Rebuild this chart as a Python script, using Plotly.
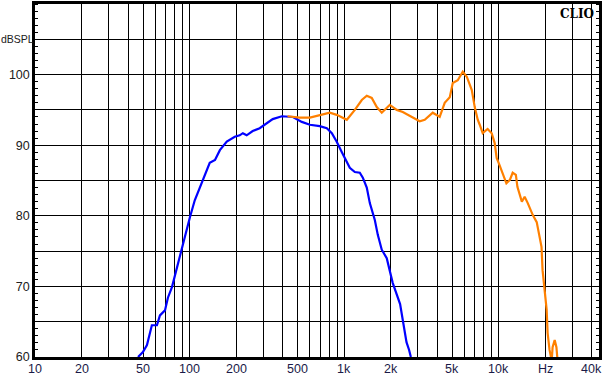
import plotly.graph_objects as go
import math

# Woofer (blue) response
woofer_freq = [46.4, 49.9, 53, 57, 61.5, 64.3, 69.3, 72.4, 76.9, 80.4, 84, 89, 93,
               100.5, 108, 122, 135, 146, 157, 174, 196, 211, 221, 234, 256, 284,
               307, 345, 395, 426, 466, 532, 600, 695, 772, 832, 895, 966, 1040,
               1087, 1172, 1262, 1320, 1400, 1465, 1578, 1650, 1750, 1885, 2060,
               2300, 2470, 2530, 2630, 2700]
woofer_db = [60.0, 60.7, 61.7, 64.5, 64.5, 65.9, 66.6, 68.4, 69.9, 71.6, 73.3, 75.5, 77.0,
             79.8, 82.2, 85.1, 87.5, 87.9, 89.3, 90.5, 91.2, 91.4, 91.7, 91.4, 92.0, 92.4,
             92.9, 93.7, 94.1, 94.1, 94.0, 93.3, 92.9, 92.7, 92.4, 91.7, 90.5, 89.0, 87.6,
             86.8, 86.2, 86.1, 85.4, 84.0, 81.8, 79.4, 77.3, 75.2, 74.0, 70.5,
             67.5, 63.8, 62.1, 61.0, 60.0]

# Tweeter (orange) response
tweeter_freq = [430, 516, 600, 695, 807, 895, 1040, 1172, 1300, 1400, 1508, 1625, 1750,
                1972, 2188, 2393, 2776, 3080, 3320, 3740, 4150, 4470, 4820, 5040, 5430,
                5850, 6210, 6690, 6990, 7310, 7530, 7870, 8470, 9000, 9410, 9690, 10100,
                10600, 11200, 11800, 12300, 12900, 13200, 14100, 14700, 15400, 16600,
                17600, 18400, 18900, 19200, 19800, 20400, 20700, 21300, 22000, 22300,
                23000, 23600, 24000]
tweeter_db = [94.1, 93.9, 93.9, 94.3, 94.6, 94.3, 93.6, 95.0, 96.4, 97.0, 96.7, 95.4, 94.6,
              95.7, 95.0, 94.7, 93.9, 93.4, 93.6, 94.6, 94.0, 96.0, 96.8, 98.8, 99.2,
              100.4, 99.7, 97.8, 95.4, 93.6, 92.9, 91.7, 92.3, 91.7, 90.3, 88.2, 87.2,
              86.1, 84.6, 85.1, 86.1, 85.8, 84.1, 82.0, 82.7, 81.8, 80.1,
              79.1, 77.0, 75.6, 72.3, 69.9, 66.7, 63.4, 61.0, 59.5, 61.4,
              62.4, 61.4, 59.5]

# Axis ticks
x_grid = [10, 20, 30, 40, 50, 60, 70, 80, 90,
          100, 200, 300, 400, 500, 600, 700, 800, 900,
          1000, 2000, 3000, 4000, 5000, 6000, 7000, 8000, 9000,
          10000, 20000, 30000, 40000]
x_label_vals = [10, 20, 50, 100, 200, 500, 1000, 2000, 5000, 10000, 20000, 40000]
x_label_text = ["10", "20", "50", "100", "200", "500", "1k", "2k", "5k", "10k", "Hz", "40k"]
y_vals = [60, 65, 70, 75, 80, 85, 90, 95, 100, 105, 110]
y_labels = ["60", "", "70", "", "80", "", "90", "", "100", "", "110"]
y_unit = "dBSPL"
y_unit_at = 105

W, H = 603, 376
ML, MR, MT, MB = 35, 4, 4, 19
plot_h = H - MT - MB
plot_w = W - ML - MR

fig = go.Figure()
fig.add_trace(go.Scatter(x=woofer_freq, y=woofer_db, mode="lines",
                         line=dict(color="#0000FF", width=2.2), hoverinfo="skip"))
fig.add_trace(go.Scatter(x=tweeter_freq, y=tweeter_db, mode="lines",
                         line=dict(color="#FF8000", width=2.2), hoverinfo="skip"))

# x-axis labels as annotations (kept inside the page)
for v, t in zip(x_label_vals, x_label_text):
    fig.add_annotation(text=t, xref="x", yref="paper", x=math.log10(v),
                       y=-11.5 / plot_h, xanchor="center", yanchor="middle",
                       showarrow=False,
                       font=dict(family="Liberation Sans", size=12.5, color="#1a1a48"))

# unit label on the y axis
fig.add_annotation(text=y_unit, xref="paper", yref="y", x=-ML / plot_w, y=y_unit_at,
                   xanchor="left", yanchor="middle", showarrow=False, borderpad=0,
                   font=dict(family="Liberation Sans", size=10.5, color="#202020"))

fig.add_annotation(text="<b>CLIO</b>", xref="paper", yref="paper", x=0.995, y=0.998,
                   xanchor="right", yanchor="top", showarrow=False,
                   font=dict(family="DejaVu Serif", size=12, color="black"))

fig.update_layout(
    width=W, height=H,
    margin=dict(l=ML, r=MR, t=MT, b=MB, autoexpand=False),
    paper_bgcolor="white", plot_bgcolor="white",
    showlegend=False,
    font=dict(family="Liberation Sans", size=12.5, color="black"),
    xaxis=dict(type="log", range=[1, math.log10(44500)], automargin=False,
               tickvals=x_grid, showticklabels=False,
               showgrid=True, gridcolor="black", gridwidth=1,
               showline=True, linecolor="black", linewidth=2.5, mirror=True,
               ticks="", zeroline=False),
    yaxis=dict(range=[60, 110], tickvals=y_vals, ticktext=y_labels, automargin=False,
               showgrid=True, gridcolor="black", gridwidth=1,
               showline=True, linecolor="black", linewidth=2.5, mirror="ticks",
               ticks="", zeroline=False, tickfont=dict(color="#202020"),
               minor=dict(dtick=1, ticks="inside", ticklen=3, tickcolor="black",
                          showgrid=False)),
)

fig.write_html("out.html", config={"displayModeBar": False})
